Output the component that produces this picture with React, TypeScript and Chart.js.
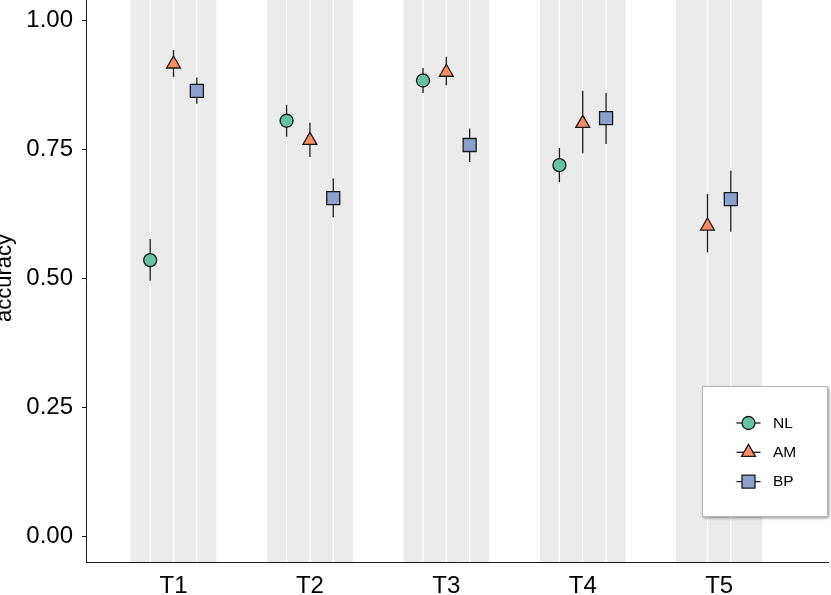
import { useEffect, useRef } from 'react';
import { Chart, registerables } from 'chart.js';
import { drawPoint } from 'chart.js/helpers';

Chart.register(...registerables);

// data (NL has no value for T5)
const categories = ['T1', 'T2', 'T3', 'T4', 'T5'];
const seriesNames = ['NL', 'AM', 'BP'];
const nlMean = [0.536, 0.806, 0.884, 0.72, null];
const nlLow = [0.496, 0.775, 0.86, 0.687, null];
const nlHigh = [0.577, 0.837, 0.908, 0.753, null];
const amMean = [0.916, 0.768, 0.9, 0.801, 0.602];
const amLow = [0.891, 0.736, 0.875, 0.743, 0.551];
const amHigh = [0.943, 0.802, 0.93, 0.864, 0.664];
const bpMean = [0.864, 0.656, 0.759, 0.811, 0.654];
const bpLow = [0.839, 0.619, 0.726, 0.761, 0.591];
const bpHigh = [0.89, 0.694, 0.791, 0.86, 0.709];
const yTicks = [0, 0.25, 0.5, 0.75, 1];
const yTitle = 'accuracy';

const FONT = "'Liberation Sans', Arial, Helvetica, sans-serif";
const DODGE = 0.171;
const BAND = 0.315;
const INK = '#1a1a1a';

const styles = [
  { color: '#66C2A5', pointStyle: 'circle', radius: 6.5 },
  { color: '#FC8D62', pointStyle: 'triangle', radius: 8 },
  { color: '#8DA0CB', pointStyle: 'rect', radius: 9.2 },
];

const means = [nlMean, amMean, bpMean];
const lows = [nlLow, amLow, bpLow];
const highs = [nlHigh, amHigh, bpHigh];

// dodge offsets: the groups present in a category are spread around its centre
function offsetFor(cat: number, series: number) {
  const present = means.map((m, s) => (m[cat] != null ? s : -1)).filter((s) => s >= 0);
  const k = present.indexOf(series);
  return (k - (present.length - 1) / 2) * DODGE;
}

const bandPlugin = {
  id: 'bands',
  beforeDraw(chart: any) {
    const { ctx, chartArea, scales } = chart;
    const x = scales.x;
    ctx.save();
    categories.forEach((_, i) => {
      const l = x.getPixelForValue(i + 1 - BAND);
      const r = x.getPixelForValue(i + 1 + BAND);
      ctx.fillStyle = '#EBEBEB';
      ctx.fillRect(l, chartArea.top, r - l, chartArea.bottom - chartArea.top);
      ctx.strokeStyle = '#ffffff';
      ctx.lineWidth = 1.2;
      means.forEach((m, s) => {
        if (m[i] == null) return;
        const px = x.getPixelForValue(i + 1 + offsetFor(i, s));
        ctx.beginPath();
        ctx.moveTo(px, chartArea.top);
        ctx.lineTo(px, chartArea.bottom);
        ctx.stroke();
      });
    });
    ctx.restore();
  },
};

const errorBarPlugin = {
  id: 'errorBars',
  beforeDatasetsDraw(chart: any) {
    const { ctx, scales } = chart;
    ctx.save();
    ctx.strokeStyle = INK;
    ctx.lineWidth = 1.3;
    chart.data.datasets.forEach((ds: any, di: number) => {
      const meta = chart.getDatasetMeta(di);
      meta.data.forEach((el: any, j: number) => {
        const raw = ds.data[j];
        ctx.beginPath();
        ctx.moveTo(el.x, scales.y.getPixelForValue(raw.lo));
        ctx.lineTo(el.x, scales.y.getPixelForValue(raw.hi));
        ctx.stroke();
      });
    });
    ctx.restore();
  },
};

const legendPlugin = {
  id: 'boxLegend',
  afterDraw(chart: any) {
    const { ctx } = chart;
    const bx = 702.5;
    const by = 386.5;
    const bw = 125;
    const bh = 130;
    ctx.save();
    ctx.shadowColor = 'rgba(0,0,0,0.45)';
    ctx.shadowBlur = 3;
    ctx.shadowOffsetX = 1.5;
    ctx.shadowOffsetY = 1.5;
    ctx.fillStyle = '#ffffff';
    ctx.fillRect(bx, by, bw, bh);
    ctx.shadowColor = 'transparent';
    ctx.strokeStyle = '#b5b5b5';
    ctx.lineWidth = 1;
    ctx.strokeRect(bx, by, bw, bh);

    seriesNames.forEach((name, s) => {
      const cy = 423 + s * 29.3;
      const cx = 748.5;
      ctx.strokeStyle = INK;
      ctx.lineWidth = 1.3;
      ctx.beginPath();
      ctx.moveTo(cx - 12, cy);
      ctx.lineTo(cx + 12, cy);
      ctx.stroke();
      ctx.fillStyle = styles[s].color;
      ctx.strokeStyle = INK;
      drawPoint(ctx, { pointStyle: styles[s].pointStyle, radius: styles[s].radius, borderWidth: 1.3, rotation: 0 } as any, cx, cy);
      ctx.fillStyle = '#000';
      ctx.font = `15.5px ${FONT}`;
      ctx.textAlign = 'left';
      ctx.textBaseline = 'middle';
      ctx.fillText(name, 773, cy + 0.5);
    });

    // y axis title, partly cut by the left edge as in the original
    ctx.translate(10.5, 278);
    ctx.rotate(-Math.PI / 2);
    ctx.fillStyle = '#000';
    ctx.font = `22px ${FONT}`;
    ctx.textAlign = 'center';
    ctx.textBaseline = 'alphabetic';
    ctx.fillText(yTitle, 0, 0);
    ctx.restore();
  },
};

export default function App() {
  const canvasRef = useRef<HTMLCanvasElement | null>(null);

  useEffect(() => {
    if (!canvasRef.current) return;
    Chart.defaults.font.family = FONT;

    const datasets = seriesNames.map((name, s) => ({
      label: name,
      data: categories
        .map((_, i) =>
          means[s][i] == null
            ? null
            : { x: i + 1 + offsetFor(i, s), y: means[s][i], lo: lows[s][i], hi: highs[s][i] }
        )
        .filter((p) => p != null),
      pointStyle: styles[s].pointStyle,
      pointRadius: styles[s].radius,
      pointBackgroundColor: styles[s].color,
      pointBorderColor: INK,
      pointBorderWidth: 1.3,
      showLine: false,
    }));

    const chart = new Chart(canvasRef.current, {
      type: 'scatter',
      data: { datasets } as any,
      options: {
        animation: false,
        responsive: false,
        layout: { autoPadding: false, padding: { top: 0, right: 3, left: 0, bottom: 0 } },
        plugins: { legend: { display: false }, tooltip: { enabled: false } },
        scales: {
          x: {
            type: 'linear',
            min: 0.3585,
            max: 5.798,
            grid: { display: false, drawTicks: false },
            border: { display: true, color: INK, width: 1 },
            ticks: {
              padding: 10,
              color: '#000',
              font: { size: 24 },
              callback: (v: any) => categories[Number(v) - 1] ?? '',
            },
            afterBuildTicks: (s: any) => {
              s.ticks = categories.map((_, i) => ({ value: i + 1 }));
            },
            afterFit: (s: any) => {
              s.height = 33;
              s.paddingLeft = 0;
              s.paddingRight = 0;
            },
          },
          y: {
            type: 'linear',
            min: -0.049,
            max: 1.04,
            grid: { display: true, drawOnChartArea: false, drawTicks: true, tickLength: 4, color: INK },
            border: { display: true, color: INK, width: 1 },
            ticks: {
              padding: 9,
              color: '#000',
              font: { size: 24 },
              callback: (v: any) => Number(v).toFixed(2),
            },
            afterBuildTicks: (s: any) => {
              s.ticks = yTicks.map((v) => ({ value: v }));
            },
            afterFit: (s: any) => {
              s.width = 86;
              s.paddingTop = 0;
              s.paddingBottom = 0;
            },
          },
        },
      } as any,
      plugins: [bandPlugin, errorBarPlugin, legendPlugin],
    });

    return () => chart.destroy();
  }, []);

  return (
    <div style={{ position: 'absolute', left: 0, top: 0, width: 831, height: 595, background: '#fff' }}>
      <canvas ref={canvasRef} width={831} height={595} />
    </div>
  );
}
